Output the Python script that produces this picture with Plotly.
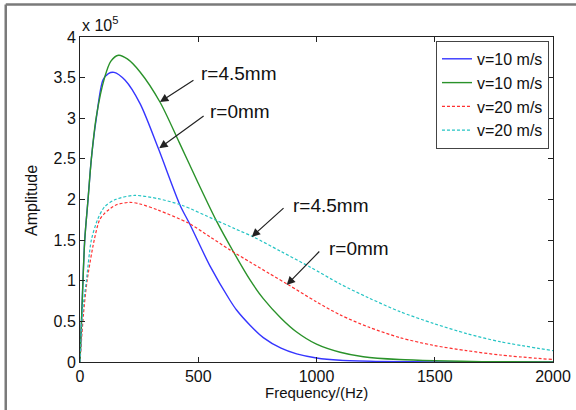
import plotly.graph_objects as go

# ---- data (amplitude in units of 1e5) ----
freq_v10_r0 = [0, 7, 20, 34, 48, 69, 97, 120, 144, 190, 254, 331, 423, 462, 550, 634, 662, 720, 775, 850, 916, 1000, 1100, 1250, 1500, 2000]
amp_v10_r0 = [0, 0.56, 1.5, 2.0, 2.5, 3.0, 3.47, 3.55, 3.565, 3.47, 3.18, 2.63, 1.93, 1.71, 1.18, 0.76, 0.64, 0.45, 0.3, 0.17, 0.1, 0.05, 0.022, 0.008, 0.002, 0]

freq_v10_r45 = [0, 7, 20, 34, 48, 69, 104, 130, 163, 200, 254, 338, 420, 500, 578, 648, 719, 775, 850, 916, 1000, 1100, 1198, 1350, 1500, 1700, 2000]
amp_v10_r45 = [0, 0.56, 1.5, 2.0, 2.5, 3.02, 3.5, 3.7, 3.775, 3.73, 3.57, 3.2, 2.7, 2.2, 1.73, 1.36, 1.01, 0.78, 0.54, 0.37, 0.22, 0.12, 0.065, 0.03, 0.015, 0.005, 0]

freq_v20_r0 = [0, 15, 30, 60, 83, 104, 150, 210, 254, 330, 458, 550, 634, 719, 800, 881, 1000, 1100, 1220, 1353, 1494, 1635, 1776, 2000]
amp_v20_r0 = [0, 0.6, 1.0, 1.5, 1.75, 1.83, 1.93, 1.965, 1.945, 1.87, 1.71, 1.54, 1.38, 1.23, 1.09, 0.95, 0.74, 0.58, 0.43, 0.30, 0.205, 0.14, 0.086, 0.03]

freq_v20_r45 = [0, 13, 27, 48, 74, 104, 150, 231, 330, 430, 571, 655, 733, 850, 972, 1100, 1220, 1353, 1494, 1635, 1776, 2000]
amp_v20_r45 = [0, 0.68, 1.0, 1.5, 1.75, 1.91, 2.0, 2.05, 2.01, 1.93, 1.75, 1.64, 1.54, 1.36, 1.17, 0.96, 0.79, 0.62, 0.475, 0.35, 0.25, 0.14]

legend_names = ["v=10 m/s", "v=10 m/s", "v=20 m/s", "v=20 m/s"]
x_ticks = [0, 500, 1000, 1500, 2000]
y_ticks = [0, 0.5, 1, 1.5, 2, 2.5, 3, 3.5, 4]
y_ticktext = ["0", "0.5", "1", "1.5", "2", "2.5", "3", "3.5", "4"]

FONT = "Liberation Sans, Arial, sans-serif"

fig = go.Figure()
fig.add_trace(go.Scatter(x=freq_v10_r0, y=amp_v10_r0, mode="lines", name=legend_names[0],
                         line=dict(color="#3535ff", width=1.4, shape="spline", smoothing=0.8)))
fig.add_trace(go.Scatter(x=freq_v10_r45, y=amp_v10_r45, mode="lines", name=legend_names[1],
                         line=dict(color="#2a922a", width=1.4, shape="spline", smoothing=0.8)))
fig.add_trace(go.Scatter(x=freq_v20_r0, y=amp_v20_r0, mode="lines", name=legend_names[2],
                         line=dict(color="#ff3030", width=1.2, dash="3px,2px", shape="spline", smoothing=0.8)))
fig.add_trace(go.Scatter(x=freq_v20_r45, y=amp_v20_r45, mode="lines", name=legend_names[3],
                         line=dict(color="#25c4c4", width=1.2, dash="3px,2px", shape="spline", smoothing=0.8)))

axis_common = dict(showline=True, linecolor="#222222", linewidth=1, mirror="ticks",
                   ticks="inside", ticklen=5, tickcolor="#222222", showgrid=False, zeroline=False,
                   automargin=False,
                   tickfont=dict(family=FONT, size=16, color="#111111"))
fig.update_xaxes(range=[0, 2000], tickvals=x_ticks, **axis_common)
fig.update_yaxes(range=[0, 4], tickvals=y_ticks, ticktext=y_ticktext, **axis_common)

annotations = [
    dict(text="x 10<sup>5</sup>", x=0, y=1.0, xref="paper", yref="paper", xanchor="left", yanchor="bottom",
         showarrow=False, font=dict(family=FONT, size=16, color="#111111"), yshift=1),
    dict(text="Frequency/(Hz)", x=0.501, y=-0.094, xref="paper", yref="paper", xanchor="center", yanchor="middle",
         showarrow=False, font=dict(family=FONT, size=15, color="#111111")),
    dict(text="Amplitude", x=-0.1015, y=0.4985, xref="paper", yref="paper", xanchor="center", yanchor="middle",
         textangle=-90, showarrow=False, font=dict(family=FONT, size=16, color="#111111")),
]
# labels
labels = [("r=4.5mm", 503, 3.545), ("r=0mm", 541, 3.08), ("r=4.5mm", 891, 1.93), ("r=0mm", 1044, 1.40)]
for t, x, y in labels:
    annotations.append(dict(text=t, x=x, y=y, xref="x", yref="y", xanchor="left", yanchor="middle",
                            showarrow=False, font=dict(family=FONT, size=19, color="#111111")))
# arrows (tail -> head)
arrows = [((486, 3.48), (338, 3.20)), ((529, 3.04), (335, 2.63)),
          ((867, 1.91), (726, 1.54)), ((1018, 1.378), (874, 0.948))]
for (tx, ty), (hx, hy) in arrows:
    annotations.append(dict(text="", x=hx, y=hy, ax=tx, ay=ty, xref="x", yref="y", axref="x", ayref="y",
                            showarrow=True, arrowhead=2, arrowsize=1.4, arrowwidth=1.2, arrowcolor="#222222"))

shapes = [
    dict(type="line", xref="paper", yref="paper", x0=-0.157, x1=-0.157, y0=-0.3, y1=1.1,
         line=dict(color="#7a7a7a", width=2.5)),
    dict(type="line", xref="paper", yref="paper", x0=-0.157, x1=1.2, y0=1.1, y1=1.1,
         line=dict(color="#7a7a7a", width=2.5)),
]

fig.update_layout(
    width=576, height=410,
    margin=dict(l=80, r=23, t=37, b=48),
    paper_bgcolor="white", plot_bgcolor="white",
    font=dict(family=FONT, size=16, color="#111111"),
    showlegend=True,
    legend=dict(x=0.9915, y=0.988, xanchor="right", yanchor="top",
                bgcolor="white", bordercolor="#444444", borderwidth=1,
                font=dict(family=FONT, size=16, color="#111111"),
                tracegroupgap=0, itemwidth=30),
    annotations=annotations,
    shapes=shapes,
)

fig.write_html("out.html", config={"displayModeBar": False},
               post_script="document.body.style.margin='0';document.body.style.padding='0';")
